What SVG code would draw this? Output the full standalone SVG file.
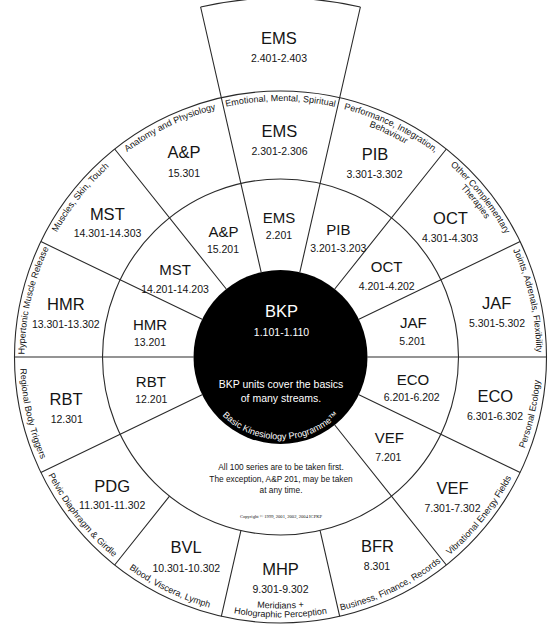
<svg xmlns="http://www.w3.org/2000/svg" width="549" height="635" viewBox="0 0 549 635">
<style>
text{font-family:"Liberation Sans",Arial,sans-serif;fill:#141414;text-anchor:middle}
.ln{stroke:#2a2a2a;stroke-width:1.1;fill:none}
.big{font-size:16.5px}
.mid{font-size:15px}
.num{font-size:10.5px}
.arc{font-size:9px}
.w{fill:#fff}
.note{font-size:8.3px}
</style>
<defs>
<path id="pEMS" d="M133.66 147.30A256 256 0 0 1 427.34 147.30"/>
<path id="pPIB1" d="M239.19 104.35A256 256 0 0 1 503.79 231.79"/>
<path id="pPIB2" d="M240.64 113.24A247 247 0 0 1 495.94 236.19"/>
<path id="pOCT1" d="M352.90 111.45A256 256 0 0 1 536.00 341.05"/>
<path id="pOCT2" d="M350.36 120.09A247 247 0 0 1 527.02 341.61"/>
<path id="pJAF" d="M452.26 167.17A256 256 0 0 1 517.62 453.49"/>
<path id="pHMR" d="M43.38 453.49A256 256 0 0 1 108.74 167.17"/>
<path id="pMST" d="M25.00 341.05A256 256 0 0 1 208.10 111.45"/>
<path id="pAP" d="M57.21 231.79A256 256 0 0 1 321.81 104.35"/>
<path id="pECO" d="M455.28 550.16A260.5 260.5 0 0 0 521.78 258.82"/>
<path id="pVEF" d="M354.18 606.86A260.5 260.5 0 0 0 540.49 373.23"/>
<path id="pBFR" d="M238.47 614.09A260.5 260.5 0 0 0 507.71 484.41"/>
<path id="pMHP1" d="M136.25 563.02A251.5 251.5 0 0 0 424.75 563.02"/>
<path id="pMHP2" d="M131.08 570.39A260.5 260.5 0 0 0 429.92 570.39"/>
<path id="pBVL" d="M53.29 484.41A260.5 260.5 0 0 0 322.53 614.09"/>
<path id="pPDG" d="M20.51 373.23A260.5 260.5 0 0 0 206.82 606.86"/>
<path id="pRBT" d="M39.22 258.82A260.5 260.5 0 0 0 105.72 550.16"/>
<path id="pBKP" d="M209.05 398.25A82.5 82.5 0 0 0 351.95 398.25"/>
</defs>
<rect width="549" height="635" fill="#fff"/>

<g id="connectors">
<circle class="ln" cx="280.5" cy="357" r="266"/>
<circle class="ln" cx="280.5" cy="357" r="178"/>
<path class="ln" d="M200.62 7.0A359 359 0 0 1 360.38 7.0"/>
<path class="ln" d="M299.86 272.18L360.38 7.0M261.14 272.18L200.62 7.0M334.74 288.98L446.35 149.03M226.26 288.98L114.65 149.03M358.88 319.25L520.16 241.59M202.12 319.25L40.84 241.59M367.5 357L546.5 357M193.5 357L14.5 357M358.88 394.75L520.16 472.41M202.12 394.75L40.84 472.41M334.74 425.02L446.35 564.97M320.11 530.54L339.69 616.33M240.89 530.54L221.31 616.33M169.52 496.17L114.65 564.97"/>
</g>

<g id="bkp">
<circle cx="280.5" cy="357" r="87" fill="#000"/>
<text class="big w" x="281.5" y="317.3" font-size="17">BKP</text>
<text class="num w" x="281.5" y="336">1.101-1.110</text>
<text class="num w" x="281" y="388">BKP units cover the basics</text>
<text class="num w" x="281" y="401.5">of many streams.</text>
<text class="w" font-size="9"><textPath href="#pBKP" startOffset="50%">Basic Kinesiology Programme™</textPath></text>
</g>

<g id="series-note">
<text class="note" x="281" y="470">All 100 series are to be taken first.</text>
<text class="note" x="281" y="481.5">The exception, A&amp;P 201, may be taken</text>
<text class="note" x="281" y="493">at any time.</text>
<text x="281" y="518" font-size="4.6" style="font-family:'Liberation Serif',serif">Copyright © 1999, 2001, 2002, 2004 ICPKP</text>
</g>

<g id="ems-4">
<text class="big" x="279" y="43.5" font-size="17">EMS</text>
<text class="num" x="279" y="61.5">2.401-2.403</text>
</g>
<g id="ems-3">
<text class="big" x="279.5" y="137">EMS</text>
<text class="num" x="279.5" y="155">2.301-2.306</text>
<text class="arc"><textPath href="#pEMS" startOffset="50%">Emotional, Mental, Spiritual</textPath></text>
</g>
<g id="pib-3">
<text class="big" x="375" y="160">PIB</text>
<text class="num" x="374.5" y="178">3.301-3.302</text>
<text class="arc"><textPath href="#pPIB1" startOffset="50%">Performance, Integration,</textPath></text>
<text class="arc"><textPath href="#pPIB2" startOffset="50%">Behaviour</textPath></text>
</g>
<g id="oct-3">
<text class="big" x="450.5" y="224">OCT</text>
<text class="num" x="450" y="241.5">4.301-4.303</text>
<text class="arc"><textPath href="#pOCT1" startOffset="50%">Other Complementary</textPath></text>
<text class="arc"><textPath href="#pOCT2" startOffset="50%">Therapies</textPath></text>
</g>
<g id="jaf-3">
<text class="big" x="496.7" y="309">JAF</text>
<text class="num" x="497" y="326.7">5.301-5.302</text>
<text class="arc"><textPath href="#pJAF" startOffset="50%">Joints, Adrenals, Flexibility</textPath></text>
</g>
<g id="eco-3">
<text class="big" x="495.3" y="401.7">ECO</text>
<text class="num" x="495" y="420">6.301-6.302</text>
<text class="arc"><textPath href="#pECO" startOffset="50%">Personal Ecology</textPath></text>
</g>
<g id="vef-3">
<text class="big" x="452.5" y="494">VEF</text>
<text class="num" x="452.5" y="512.3">7.301-7.302</text>
<text class="arc"><textPath href="#pVEF" startOffset="50%">Vibrational Energy Fields</textPath></text>
</g>
<g id="bfr-3">
<text class="big" x="377.5" y="551.7">BFR</text>
<text class="num" x="377" y="570">8.301</text>
<text class="arc"><textPath href="#pBFR" startOffset="50%">Business, Finance, Records</textPath></text>
</g>
<g id="mhp-3">
<text class="big" x="280.5" y="575">MHP</text>
<text class="num" x="280.5" y="592.5">9.301-9.302</text>
<text class="arc" font-size="8.7"><textPath href="#pMHP1" startOffset="50%">Meridians +</textPath></text>
<text class="arc" font-size="8.7"><textPath href="#pMHP2" startOffset="50%">Holographic Perception</textPath></text>
</g>
<g id="bvl-3">
<text class="big" x="186" y="552.7">BVL</text>
<text class="num" x="186.3" y="571.7">10.301-10.302</text>
<text class="arc"><textPath href="#pBVL" startOffset="50%">Blood, Viscera, Lymph</textPath></text>
</g>
<g id="pdg-3">
<text class="big" x="112.2" y="491.7">PDG</text>
<text class="num" x="112.2" y="509.3">11.301-11.302</text>
<text class="arc"><textPath href="#pPDG" startOffset="50%">Pelvic Diaphragm &amp; Girdle</textPath></text>
</g>
<g id="rbt-3">
<text class="big" x="66" y="405">RBT</text>
<text class="num" x="66.7" y="423.3">12.301</text>
<text class="arc"><textPath href="#pRBT" startOffset="50%">Regional Body Triggers</textPath></text>
</g>
<g id="hmr-3">
<text class="big" x="65.8" y="310">HMR</text>
<text class="num" x="65.8" y="328">13.301-13.302</text>
<text class="arc"><textPath href="#pHMR" startOffset="50%">Hypertonic Muscle Release</textPath></text>
</g>
<g id="mst-3">
<text class="big" x="107.3" y="220">MST</text>
<text class="num" x="107.5" y="236.7">14.301-14.303</text>
<text class="arc"><textPath href="#pMST" startOffset="50%">Muscles, Skin, Touch</textPath></text>
</g>
<g id="ap-3">
<text class="big" x="184" y="158">A&amp;P</text>
<text class="num" x="184" y="177">15.301</text>
<text class="arc"><textPath href="#pAP" startOffset="50%">Anatomy and Physiology</textPath></text>
</g>

<g id="ems-2"><text class="mid" x="279" y="223.3">EMS</text><text class="num" x="279" y="239.3">2.201</text></g>
<g id="pib-2"><text class="mid" x="338.3" y="235">PIB</text><text class="num" x="338.3" y="251.5">3.201-3.203</text></g>
<g id="oct-2"><text class="mid" x="386.7" y="271.7">OCT</text><text class="num" x="386.7" y="290">4.201-4.202</text></g>
<g id="jaf-2"><text class="mid" x="413.3" y="328.3">JAF</text><text class="num" x="412.5" y="345">5.201</text></g>
<g id="eco-2"><text class="mid" x="413" y="385">ECO</text><text class="num" x="411.7" y="400.7">6.201-6.202</text></g>
<g id="vef-2"><text class="mid" x="389.3" y="443.3">VEF</text><text class="num" x="388.3" y="460.7">7.201</text></g>
<g id="rbt-2"><text class="mid" x="150.8" y="386.7">RBT</text><text class="num" x="151.3" y="403.3">12.201</text></g>
<g id="hmr-2"><text class="mid" x="150" y="330">HMR</text><text class="num" x="150" y="346">13.201</text></g>
<g id="mst-2"><text class="mid" x="175.2" y="275">MST</text><text class="num" x="175" y="292.5">14.201-14.203</text></g>
<g id="ap-2"><text class="mid" x="223.5" y="236.7">A&amp;P</text><text class="num" x="223" y="252.5">15.201</text></g>
</svg>
